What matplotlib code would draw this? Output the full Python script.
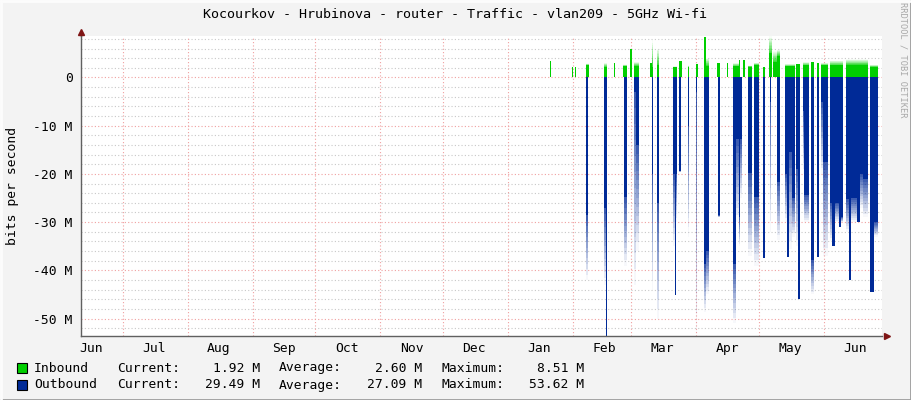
import numpy as np
import pandas as pd
import matplotlib
matplotlib.use("Agg")
import matplotlib.pyplot as plt
import matplotlib.dates as mdates
import matplotlib.ticker as mticker
from matplotlib.lines import Line2D
from matplotlib.patches import Rectangle
from datetime import datetime

## data ##
# days counted from 2021-01-01, values in Mbit/s
# inbound: start day, end day, solid height, faded top
in_start = [20.2, 30.8, 32.2, 37.4, 46.0, 50.9, 55.2, 58.5, 60.5, 68.0, 68.9, 71.4,
            79.2, 81.9, 86.1, 90.0, 93.9, 94.6, 100.2, 104.7, 107.5, 110.6, 112.6,
            114.7, 117.6, 121.9, 125.0, 126.7, 128.6, 132.4, 137.8, 141.3, 145.0,
            147.8, 149.6, 154.0, 161.6, 173.2]
in_end = [20.7, 31.3, 32.5, 38.9, 47.6, 51.4, 57.1, 59.6, 62.9, 68.9, 69.5, 72.5,
          81.1, 83.5, 86.7, 90.8, 94.6, 96.0, 101.5, 105.3, 110.6, 110.9, 113.4,
          116.6, 120.1, 122.8, 126.5, 128.6, 130.3, 137.5, 139.7, 144.0, 146.6,
          148.8, 153.0, 160.4, 172.1, 176.9]
in_solid = [3.4, 2.2, 2.1, 2.5, 2.2, 2.9, 2.3, 6.0, 2.4, 2.9, 2.2, 2.5,
            2.1, 3.4, 2.1, 2.8, 8.3, 2.4, 3.1, 3.1, 2.3, 3.6, 3.6,
            2.2, 2.6, 2.1, 5.0, 3.2, 4.5, 2.3, 2.7, 2.5, 3.2,
            2.9, 2.5, 2.5, 2.6, 2.2]
in_tail = [3.4, 2.2, 2.1, 2.9, 3.0, 2.9, 2.7, 6.0, 3.2, 2.9, 7.7, 6.0,
           2.3, 3.4, 2.5, 2.8, 8.3, 4.0, 3.1, 3.1, 3.0, 3.6, 3.6,
           2.5, 3.0, 2.1, 8.51, 5.5, 5.8, 2.8, 2.7, 3.2, 3.2,
           2.9, 3.0, 3.5, 3.8, 2.6]

# outbound: start day, end day, solid depth, faded bottom
out_start = [37.4, 46.0, 47.0, 55.5, 60.5, 61.5, 68.9, 71.4, 79.2, 80.0, 80.6, 82.0,
             86.1, 90.1, 93.9, 95.0, 100.4, 107.5, 109.1, 110.4, 110.9, 114.7, 117.6,
             121.9, 125.2, 128.6, 132.4, 133.4, 134.5, 136.0, 137.8, 138.8, 141.3,
             141.8, 145.0, 147.8, 149.6, 150.7, 154.0, 155.2, 156.6, 158.5, 159.2,
             161.6, 163.2, 164.2, 167.0, 168.2, 170.0, 173.2, 175.0]
out_end = [38.2, 47.0, 47.6, 57.1, 61.5, 62.9, 69.4, 72.5, 80.0, 80.6, 81.1, 82.8,
           86.7, 90.6, 95.0, 96.0, 101.3, 109.1, 110.4, 110.9, 111.8, 116.6, 120.1,
           122.8, 126.0, 130.3, 133.4, 134.5, 136.0, 137.5, 138.8, 139.7, 141.8,
           144.0, 146.6, 148.8, 150.7, 153.0, 155.2, 156.6, 158.5, 159.2, 160.4,
           163.2, 164.2, 167.0, 168.2, 170.0, 172.1, 175.0, 176.9]
out_solid = [28.6, 27.0, 53.62, 24.8, 3.0, 14.0, 20.0, 26.0, 20.0, 45.2, 20.0, 19.4,
             10.0, 3.0, 38.6, 36.0, 28.6, 38.6, 12.7, 29.0, 12.7, 19.9, 24.8,
             37.4, 5.0, 21.6, 20.0, 37.2, 15.4, 25.0, 19.0, 45.9, 7.0,
             24.4, 37.9, 37.2, 5.0, 17.5, 26.0, 35.0, 26.0, 31.0, 29.0,
             25.3, 42.0, 25.0, 30.0, 20.0, 21.0, 44.4, 30.0]
out_tail = [42.0, 43.0, 53.62, 39.0, 43.0, 36.0, 44.0, 50.0, 35.0, 45.2, 30.0, 19.6,
            33.0, 53.0, 48.6, 45.0, 29.0, 51.0, 30.0, 35.0, 25.0, 37.0, 39.0,
            37.4, 32.0, 33.7, 30.0, 37.2, 35.5, 33.0, 35.0, 45.9, 20.0,
            30.0, 45.0, 37.2, 20.0, 37.0, 34.0, 35.0, 30.0, 31.0, 30.0,
            32.0, 42.0, 30.0, 30.0, 27.0, 29.0, 44.4, 33.0]

in_stats = [1.92, 2.60, 8.51]     # current, average, maximum (M)
out_stats = [29.49, 27.09, 53.62]

x_first, x_last = -204.0, 178.8   # visible time range, days from 2021-01-01
y_low, y_high = -53.62, 8.6

green = "#00CF00"
blue = "#002A97"
mono = "DejaVu Sans Mono"
fs = 9.4

base = mdates.date2num(datetime(2021, 1, 1))

fig = plt.figure(figsize=(9.11, 4.0), dpi=100)
fig.patch.set_facecolor("#F3F3F3")
ax = fig.add_axes([81 / 911, 64 / 400, 800.7 / 911, 300 / 400])
ax.set_facecolor("white")


def draw_area(starts, ends, solid, tail, sign, color):
    starts = np.array(starts)
    width = np.array(ends) - starts
    solid = np.array(solid)
    tail = np.array(tail)
    ax.bar(base + starts, sign * solid, width=width, align="edge",
           color=color, linewidth=0, zorder=3)
    steps = 12
    extra = tail - solid
    for k in range(steps):
        alpha = 0.8 * (1 - (k + 0.5) / steps)
        ax.bar(base + starts, sign * extra / steps, width=width, align="edge",
               bottom=sign * (solid + extra * k / steps),
               color=color, alpha=alpha, linewidth=0, zorder=3)


draw_area(in_start, in_end, in_solid, in_tail, 1, green)
draw_area(out_start, out_end, out_solid, out_tail, -1, blue)

ax.set_xlim(base + x_first, base + x_last)
ax.set_ylim(y_low, y_high)

# grid: month lines and 10 M lines red, 2 M lines grey
ax.xaxis.set_major_locator(mdates.MonthLocator())
ax.xaxis.set_minor_locator(mdates.MonthLocator(bymonthday=16))
ax.xaxis.set_major_formatter(mticker.NullFormatter())
ax.xaxis.set_minor_formatter(mdates.DateFormatter("%b"))
ax.yaxis.set_major_locator(mticker.MultipleLocator(10))
ax.yaxis.set_minor_locator(mticker.MultipleLocator(2))
ax.yaxis.set_major_formatter(mticker.FuncFormatter(
    lambda v, p: "0" if abs(v) < 1e-9 else f"{v:.0f} M"))

for y in np.arange(-52, 9, 2):
    if y % 10 != 0:
        ax.axhline(y, color="#C8C8C8", lw=0.8, ls=(0, (1, 2)), zorder=1)
for y in np.arange(-50, 1, 10):
    ax.axhline(y, color="#F0A0A0", lw=0.8, ls=(0, (1, 2)), zorder=1)
for d in pd.date_range("2020-07-01", "2021-06-01", freq="MS"):
    ax.axvline(mdates.date2num(d), color="#F0A0A0", lw=0.8, ls=(0, (1, 2)), zorder=1)

ax.tick_params(axis="both", which="both", length=0)
ax.tick_params(axis="y", pad=6, labelsize=fs)
ax.tick_params(axis="x", which="minor", pad=4, labelsize=fs)
for lab in ax.get_xticklabels(which="both") + ax.get_yticklabels():
    lab.set_fontfamily(mono)

for s in ["top", "right"]:
    ax.spines[s].set_visible(False)
for s in ["left", "bottom"]:
    ax.spines[s].set_color("#606060")
    ax.spines[s].set_linewidth(1.0)
    ax.spines[s].set_zorder(5)

# axis arrows
ax.plot([0], [1.013], marker="^", ms=5, color="#7F1515", transform=ax.transAxes,
        clip_on=False, zorder=6)
ax.plot([0, 0], [1, 1.013], color="#606060", lw=1, transform=ax.transAxes, clip_on=False)
ax.plot([1.006], [0], marker=">", ms=5, color="#7F1515", transform=ax.transAxes,
        clip_on=False, zorder=6)

ax.set_ylabel("bits per second", fontfamily=mono, fontsize=fs)
ax.yaxis.set_label_coords(-62 / 800.7, 0.5)

fig.text(455 / 911, 1 - 14 / 400, "Kocourkov - Hrubinova - router - Traffic - vlan209 - 5GHz Wi-fi",
         ha="center", va="center", fontfamily=mono, fontsize=9.6)
fig.text(903 / 911, 1 - 60 / 400, "RRDTOOL / TOBI OETIKER", rotation=270,
         ha="center", va="center", fontfamily=mono, fontsize=6.2, color="#A8A8A8")

# legend
rows = [("Inbound", green, in_stats, 368), ("Outbound", blue, out_stats, 385)]
for name, col, stats, ypx in rows:
    yf = 1 - ypx / 400
    fig.add_artist(Rectangle((17 / 911, 1 - (ypx + 5) / 400), 10 / 911, 10 / 400,
                             facecolor=col, edgecolor="black", lw=0.8))
    fig.text(34 / 911, yf, name, ha="left", va="center", fontfamily=mono, fontsize=fs)
    for lab, xl, xr, val in zip(["Current:", "Average:", "Maximum:"],
                                [117, 279, 441], [260, 422, 584], stats):
        fig.text(xl / 911, yf, lab, ha="left", va="center", fontfamily=mono, fontsize=fs)
        fig.text(xr / 911, yf, f"{val:.2f} M", ha="right", va="center",
                 fontfamily=mono, fontsize=fs)

# 3d-ish frame of the picture
fig.add_artist(Line2D([0, 1], [0.5 / 400, 0.5 / 400], color="#9C9C9C", lw=2))
fig.add_artist(Line2D([1 - 0.5 / 911, 1 - 0.5 / 911], [0, 1], color="#9C9C9C", lw=2))
fig.add_artist(Line2D([0, 1], [1 - 0.5 / 400, 1 - 0.5 / 400], color="#FCFCFC", lw=2))
fig.add_artist(Line2D([0.5 / 911, 0.5 / 911], [0, 1], color="#FCFCFC", lw=2))

fig.savefig("out.png", dpi=100, facecolor=fig.get_facecolor())
